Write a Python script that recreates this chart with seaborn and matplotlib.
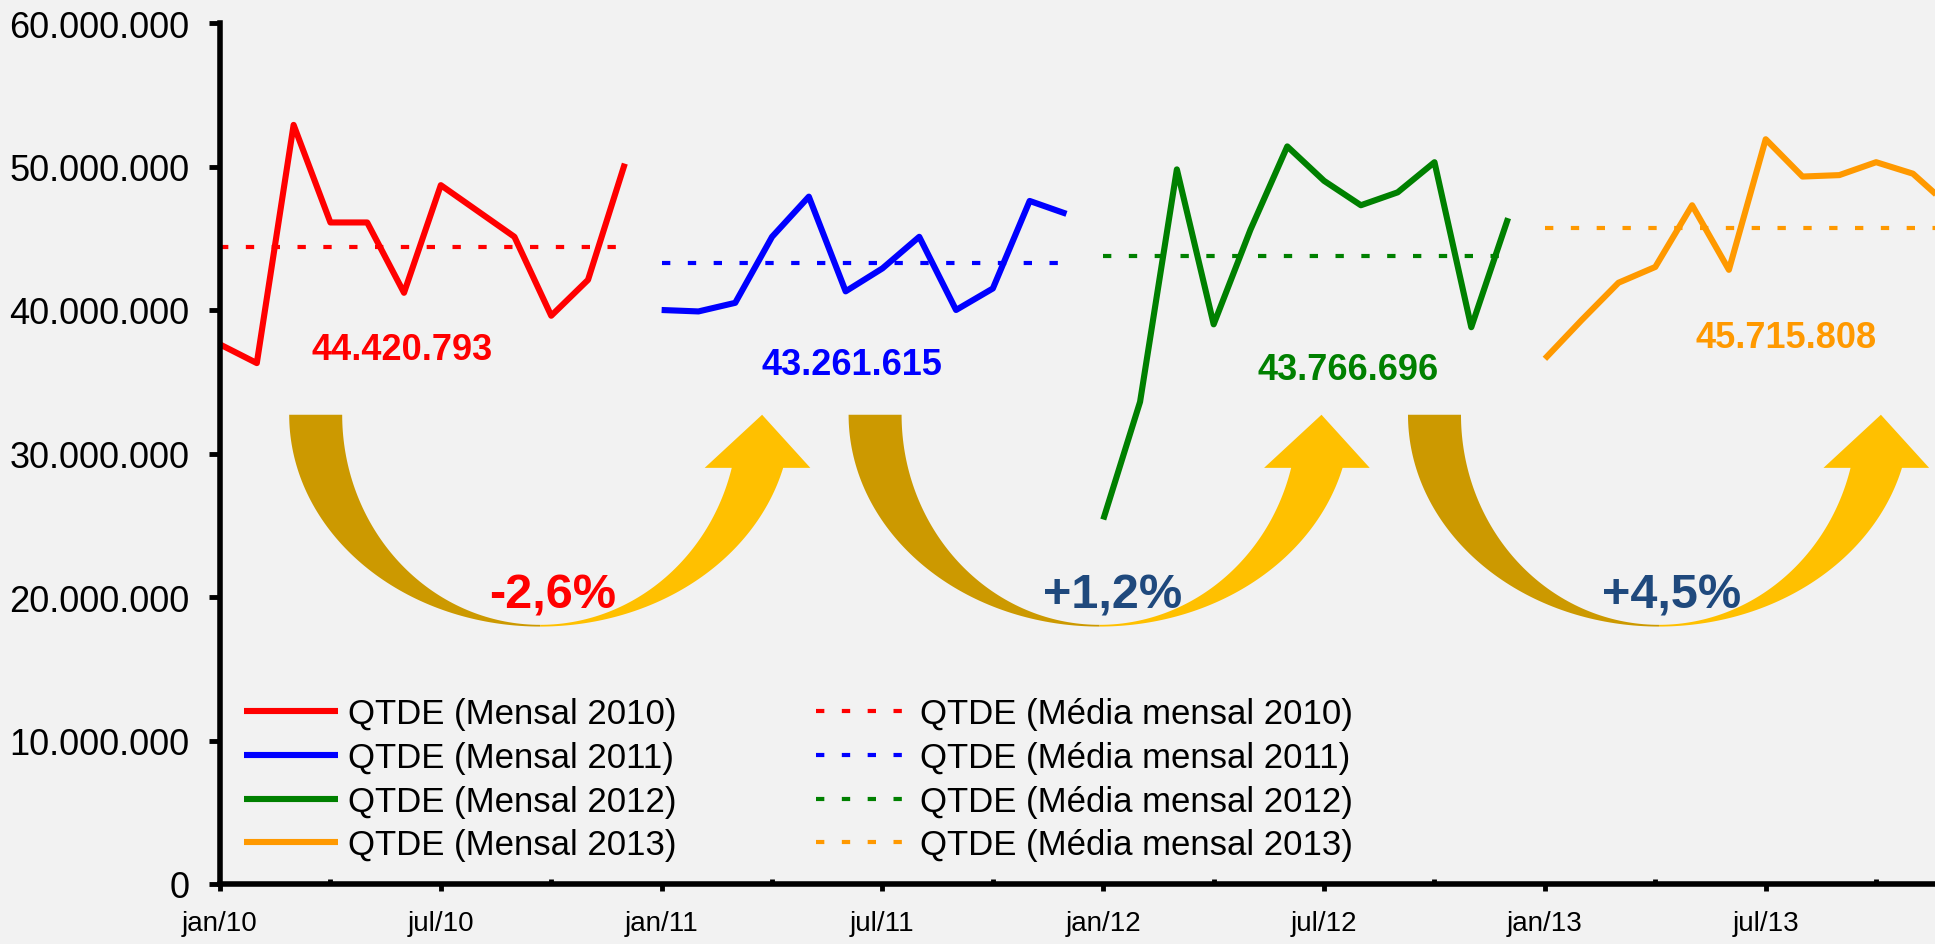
import matplotlib.pyplot as plt
import numpy as np
import pandas as pd
import seaborn as sns
from matplotlib.lines import Line2D
from matplotlib.patches import Polygon
from matplotlib.ticker import FuncFormatter

# valores mensais (milhões)
anos = [2010, 2011, 2012, 2013]
cores = ["#FF0000", "#0000FF", "#008000", "#FF9900"]
mensal_2010 = [37.6, 36.3, 52.9, 46.1, 46.1, 41.2, 48.7, 46.9, 45.1, 39.6, 42.1, 50.2]
mensal_2011 = [40.0, 39.9, 40.5, 45.1, 47.9, 41.3, 42.9, 45.1, 40.0, 41.5, 47.6, 46.7]
mensal_2012 = [25.4, 33.6, 49.8, 39.0, 45.6, 51.4, 49.0, 47.3, 48.2, 50.3, 38.8, 46.4]
mensal_2013 = [36.6, 39.3, 41.9, 43.0, 47.3, 42.8, 51.9, 49.3, 49.4, 50.3, 49.5, 47.2]
medias = [44420793, 43261615, 43766696, 45715808]
rotulos_media = ["44.420.793", "43.261.615", "43.766.696", "45.715.808"]
variacoes = ["-2,6%", "+1,2%", "+4,5%"]
cores_variacao = ["#FF0000", "#1F497D", "#1F497D"]
rotulos_x = ["jan/10", "jul/10", "jan/11", "jul/11", "jan/12", "jul/12", "jan/13", "jul/13"]

mensais = [mensal_2010, mensal_2011, mensal_2012, mensal_2013]
linhas = []
for ano, valores in zip(anos, mensais):
    for i, v in enumerate(valores):
        linhas.append({"mes": (ano - 2010) * 12 + i, "qtde": v * 1e6, "ano": str(ano)})
df = pd.DataFrame(linhas)
df["media"] = df["ano"].map(dict(zip([str(a) for a in anos], medias)))

sns.set_theme(style="white")
plt.rcParams["font.family"] = ["Liberation Sans", "DejaVu Sans"]

fundo = "#F2F2F2"
pontilhado = (0, (2.0, 4.2))
fig = plt.figure(figsize=(19.35, 9.45), dpi=100, facecolor=fundo)
ax = fig.add_axes([220 / 1935, 60 / 945, 1715 / 1935, 861 / 945], facecolor=fundo)

paleta = dict(zip([str(a) for a in anos], cores))
sns.lineplot(data=df, x="mes", y="qtde", hue="ano", palette=paleta, linewidth=4.4,
             solid_capstyle="butt", solid_joinstyle="round", legend=False, ax=ax)
sns.lineplot(data=df, x="mes", y="media", hue="ano", palette=paleta, linewidth=3.0,
             linestyle=pontilhado, legend=False, ax=ax)

# setas curvas entre os anos
def seta(cx, y0=32.7e6):
    a_out, b_out = 6.82, 14.76e6
    a_in, b_in = 5.38, 14.64e6
    t = np.linspace(np.pi, 1.5 * np.pi, 80)
    esc = np.vstack([np.c_[cx + a_out * np.cos(t), y0 + b_out * np.sin(t)],
                     np.c_[cx + a_in * np.cos(t[::-1]), y0 + b_in * np.sin(t[::-1])]])
    ax.add_patch(Polygon(esc, closed=True, fc="#CC9900", ec="none", zorder=1))
    base = 3.7e6
    t_out = np.linspace(1.5 * np.pi, 2 * np.pi - np.arcsin(base / b_out), 80)
    t_in = np.linspace(2 * np.pi - np.arcsin(base / b_in), 1.5 * np.pi, 80)
    clara = np.vstack([np.c_[cx + a_out * np.cos(t_out), y0 + b_out * np.sin(t_out)],
                       [[cx + 7.34, y0 - base], [cx + 6.03, y0], [cx + 4.47, y0 - base]],
                       np.c_[cx + a_in * np.cos(t_in), y0 + b_in * np.sin(t_in)]])
    ax.add_patch(Polygon(clara, closed=True, fc="#FFC000", ec="none", zorder=1))

for i, (txt, cor) in enumerate(zip(variacoes, cores_variacao)):
    cx = 8.70 + 15.2 * i
    seta(cx)
    ax.text(cx + 0.35, 19.25e6, txt, color=cor, fontsize=35, fontweight="bold",
            ha="center", va="baseline", zorder=5)

pos_media = [(4.94, 36.6e6), (17.17, 35.56e6), (30.65, 35.2e6), (42.55, 37.45e6)]
for (x, y), txt, cor in zip(pos_media, rotulos_media, cores):
    ax.text(x, y, txt, color=cor, fontsize=26, fontweight="bold", ha="center",
            va="baseline", zorder=5)

ax.set_xlim(0, 46.6)
ax.set_ylim(0, 60e6)
ax.set_xticks(range(0, 48, 6))
ax.set_xticklabels(rotulos_x)
ax.set_xticks(range(3, 48, 6), minor=True)
ax.set_yticks(np.arange(0, 60e6 + 1, 10e6))
ax.yaxis.set_major_formatter(FuncFormatter(lambda v, p: f"{int(v):,}".replace(",", ".")))
ax.set_xlabel("")
ax.set_ylabel("")

for lado in ["top", "right"]:
    ax.spines[lado].set_visible(False)
for lado in ["left", "bottom"]:
    ax.spines[lado].set_linewidth(4)
    ax.spines[lado].set_color("black")
ax.tick_params(axis="y", which="major", direction="out", length=8, width=3.5,
               labelsize=26, pad=14, colors="black", left=True)
ax.tick_params(axis="x", which="major", direction="out", length=5, width=3.5,
               labelsize=20, pad=14, colors="black", bottom=True)
ax.tick_params(axis="x", which="minor", direction="in", length=3.5, width=3.5,
               colors="black", bottom=True)

handles = [Line2D([], [], color=c, lw=4.4, solid_capstyle="butt") for c in cores]
handles += [Line2D([], [], color=c, lw=3.0, linestyle=pontilhado) for c in cores]
labels = [f"QTDE (Mensal {a})" for a in anos] + [f"QTDE (Média mensal {a})" for a in anos]
ax.legend(handles, labels, ncol=2, loc="upper left", bbox_to_anchor=(0.014, 0.217),
          frameon=False, fontsize=25, handlelength=2.7, handletextpad=0.3,
          columnspacing=4.0, labelspacing=0.31, borderpad=0, borderaxespad=0,
          labelcolor="black")

fig.savefig("out.png", dpi=100, facecolor=fundo)
